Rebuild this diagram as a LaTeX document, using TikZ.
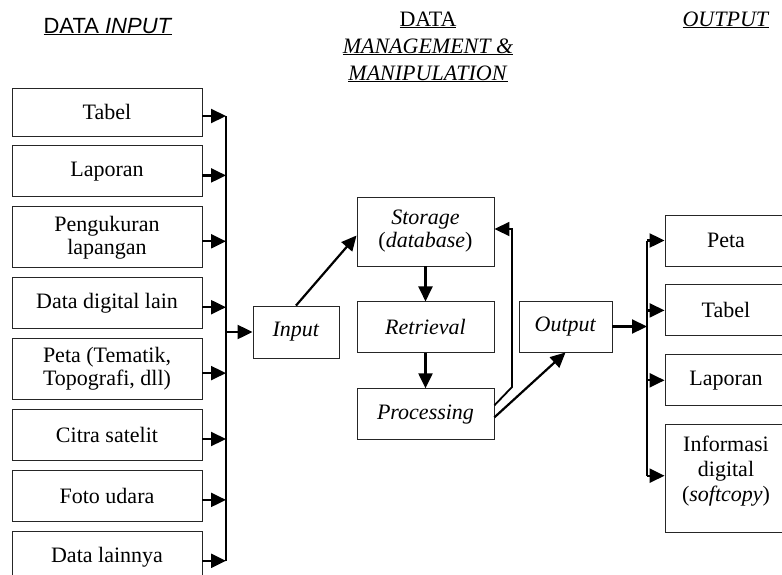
\documentclass[tikz,border=0pt]{standalone}
\usepackage{fontspec}
\setmainfont{Liberation Serif}
\newfontfamily\headsans{Liberation Sans}
\usetikzlibrary{positioning,arrows.meta}

\begin{document}
\begin{tikzpicture}[x=1pt,y=-1pt,
    every node/.style={align=center, font=\fontsize{22}{23}\selectfont},
    box/.style={draw=black!85, line width=0.9pt, inner sep=2pt},
    inbox/.style={box, minimum width=190pt, minimum height=51pt},
    midbox/.style={box, minimum width=137pt, minimum height=51pt},
    outbox/.style={box, minimum width=122pt, minimum height=51pt},
    head/.style={font=\fontsize{22}{27}\selectfont},
    >={Triangle[length=15pt,width=14pt]},
    arr/.style={->, line width=2.2pt},
    bus/.style={line width=2.4pt},
]
\useasboundingbox (0,0) rectangle (782,574);
\clip (0,0) rectangle (782,574);

% headings
\node[font=\headsans\fontsize{22}{24}\selectfont, anchor=base] (hin) at (108,33)
    {\underline{DATA \textit{INPUT}}};
\node[head, anchor=north] (hmid) at (428,8)
    {\underline{DATA}\\ \underline{\textit{MANAGEMENT \&}}\\ \underline{\textit{MANIPULATION}}};
\node[head, anchor=base] (hout) at (726,26) {\underline{\textit{OUTPUT}}};

% data input
\node[inbox, minimum height=48pt] (tabel) at (107,112) {Tabel};
\node[inbox, below=9pt of tabel] (laporan) {Laporan};
\node[inbox, minimum height=61pt, below=9pt of laporan] (pengukuran) {Pengukuran\\lapangan};
\node[inbox, below=9pt of pengukuran] (digital) {Data digital lain};
\node[inbox, minimum height=61pt, below=9pt of digital] (peta) {Peta (Tematik,\\Topografi, dll)};
\node[inbox, below=9pt of peta] (citra) {Citra satelit};
\node[inbox, below=9pt of citra] (foto) {Foto udara};
\node[inbox, below=9pt of foto] (lainnya) {Data lainnya};

% management & manipulation
\node[box, minimum width=86pt, minimum height=52pt] (input) at (296,332) {\textit{Input}};
\node[midbox, minimum height=69pt] (storage) at (425.5,231.5) {\textit{Storage}\\(\textit{database})};
\node[midbox, below=35pt of storage] (retrieval) {\textit{Retrieval}};
\node[midbox, below=35pt of retrieval] (processing) {\textit{Processing}};
\node[box, minimum width=93pt, minimum height=51pt] (output) at (565.5,326.5) {\textit{Output}};

% output
\node[outbox] (opeta) at (726,240.5) {Peta};
\node[outbox, below=18pt of opeta] (otabel) {Tabel};
\node[outbox, below=18pt of otabel] (olaporan) {Laporan};
\node[outbox, minimum height=108pt, below=18pt of olaporan,
    font=\fontsize{22}{25}\selectfont] (oinfo) {Informasi\\digital\\(\textit{softcopy})\\[-6pt]};

\coordinate (lbus) at (226,0);
\coordinate (rbus) at (647,0);
\coordinate (fb) at (512,387);

% left bus
\foreach \n in {tabel,laporan,pengukuran,digital,peta,citra,foto,lainnya}{
    \path ([yshift=-4pt]\n.east) coordinate (\n-o);
    \draw[arr] (\n-o) -- (\n-o -| lbus);
}
\draw[bus] (tabel-o -| lbus) -- (lainnya-o -| lbus);
\draw[arr] (input.west -| lbus) -- (input.west);

\draw[arr] (input.north) -- ([yshift=-4pt]storage.west);
\draw[arr] (storage.south) -- (retrieval.north);
\draw[arr] (retrieval.south) -- (processing.north);
\draw[arr, line width=1.8pt] ([yshift=9pt]processing.east) -- (fb) |- ([yshift=2.5pt]storage.east);
\draw[arr] ([yshift=-3pt]processing.east) -- (output.south);

% right bus
\draw[arr] (output.east) -- (output.east -| rbus);
\draw[bus] (opeta.west -| rbus) -- ([yshift=3pt]oinfo.west -| rbus);
\foreach \n in {opeta,otabel,olaporan}
    \draw[arr] (\n.west -| rbus) -- (\n.west);
\draw[arr] ([yshift=3pt]oinfo.west -| rbus) -- ([yshift=3pt]oinfo.west);
\end{tikzpicture}
\end{document}
